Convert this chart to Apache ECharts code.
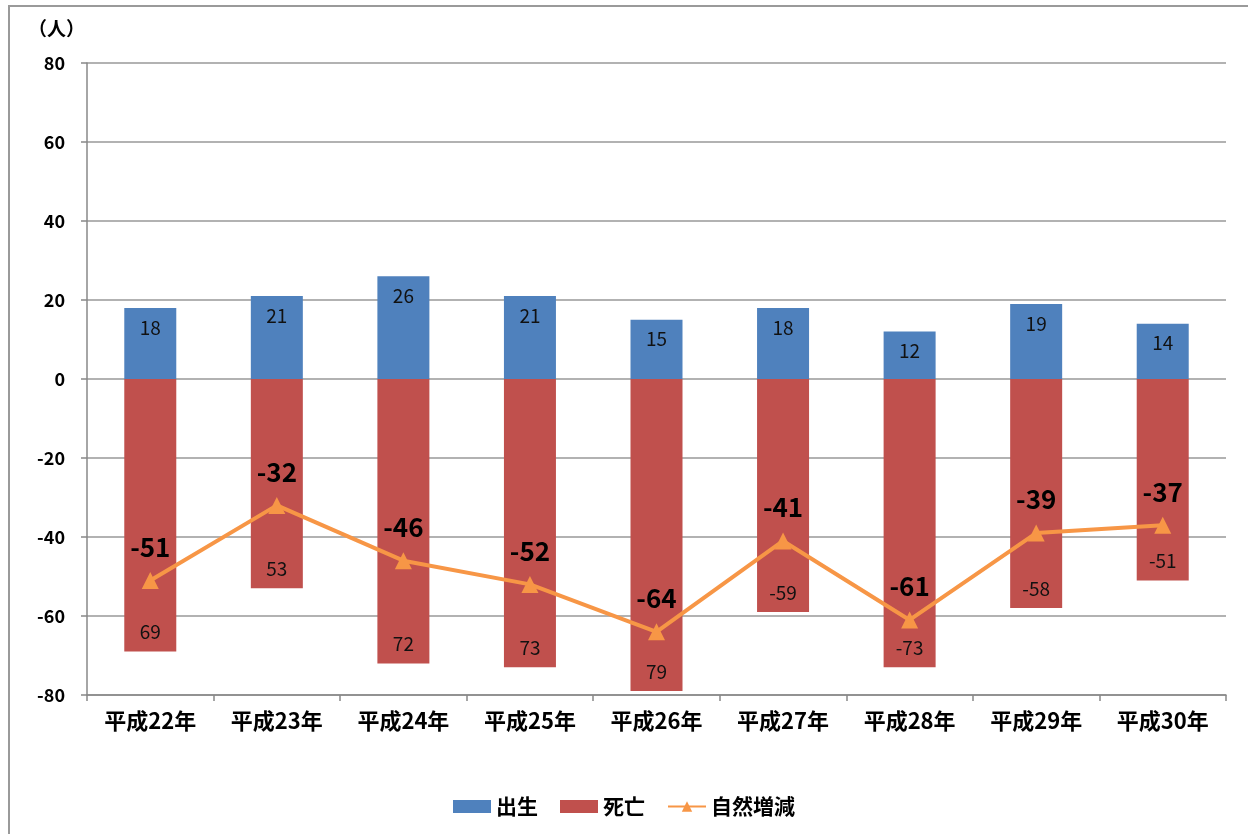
<!DOCTYPE html>
<html><head><meta charset="utf-8">
<script src="https://cdn.jsdelivr.net/npm/echarts@6/dist/echarts.min.js"></script>
<style>html,body{margin:0;padding:0;background:#fff}#frame{position:absolute;left:8px;top:5px;width:1260px;height:860px;border:2px solid #9a9a9a;box-sizing:border-box}#c{position:absolute;left:0;top:0;width:1248px;height:834px}</style>
</head><body><div id="frame"></div><div id="c"></div>
<script>
const categories = ['平成22年','平成23年','平成24年','平成25年','平成26年','平成27年','平成28年','平成29年','平成30年'];
const births = [18, 21, 26, 21, 15, 18, 12, 19, 14];
const deaths = [-69, -53, -72, -73, -79, -59, -73, -58, -51];
const deathLabels = ['69','53','72','73','79','-59','-73','-58','-51'];
const natural = [-51, -32, -46, -52, -64, -41, -61, -39, -37];
const yTicks = [-80, -60, -40, -20, 0, 20, 40, 60, 80];

const font = '"Noto Sans CJK JP", "Noto Sans", sans-serif';
const chart = echarts.init(document.getElementById('c'));
chart.setOption({
  backgroundColor: 'transparent',
  textStyle: { fontFamily: font },
  animation: false,
  grid: { left: 87, right: 22, top: 63, bottom: 139 },
  graphic: [{ type: 'text', left: 28, top: 19, style: { text: '（人）', font: 'bold 19px ' + font, fill: '#000' } }],
  legend: {
    bottom: 12, left: 'center', itemGap: 22, itemWidth: 38, itemHeight: 13,
    textStyle: { fontSize: 21, fontWeight: 'bold', color: '#000', fontFamily: font },
    data: [{ name: '出生', icon: 'rect' }, { name: '死亡', icon: 'rect' }, { name: '自然増減' }]
  },
  xAxis: {
    type: 'category', data: categories, position: 'bottom',
    axisLine: { onZero: false, lineStyle: { color: '#888', width: 1.5 } },
    axisTick: { show: true, length: 6, interval: 0, lineStyle: { color: '#888', width: 1.5 } },
    axisLabel: { color: '#000', fontSize: 22, fontWeight: 'bold', margin: 15, fontFamily: font },
    splitLine: { show: false }
  },
  yAxis: {
    type: 'value', min: yTicks[0], max: yTicks[yTicks.length - 1], interval: 20,
    axisLine: { show: true, lineStyle: { color: '#888', width: 1.5 } },
    axisTick: { show: true, length: 6, lineStyle: { color: '#888', width: 1.5 } },
    axisLabel: { color: '#000', fontSize: 18, fontWeight: 'bold', margin: 22, fontFamily: font },
    splitLine: { show: true, lineStyle: { color: '#999', width: 1.5 } }
  },
  series: [
    { name: '出生', type: 'bar', stack: 'a', data: births, barWidth: 52,
      itemStyle: { color: '#4F81BD' },
      label: { show: true, position: 'insideTop', distance: 10, color: '#111', fontSize: 19, fontFamily: font } },
    { name: '死亡', type: 'bar', stack: 'a', data: deaths, barWidth: 52,
      itemStyle: { color: '#C0504D' },
      label: { show: true, position: 'insideBottom', distance: 10, color: '#111', fontSize: 19, fontFamily: font,
        formatter: p => deathLabels[p.dataIndex] } },
    { name: '自然増減', type: 'line', data: natural, symbol: 'triangle', symbolSize: 17,
      lineStyle: { color: '#F79646', width: 4 }, itemStyle: { color: '#F79646' }, z: 5,
      label: { show: true, position: 'top', distance: 12, color: '#000', fontSize: 26, fontWeight: 'bold', fontFamily: font } }
  ]
});
</script></body></html>
